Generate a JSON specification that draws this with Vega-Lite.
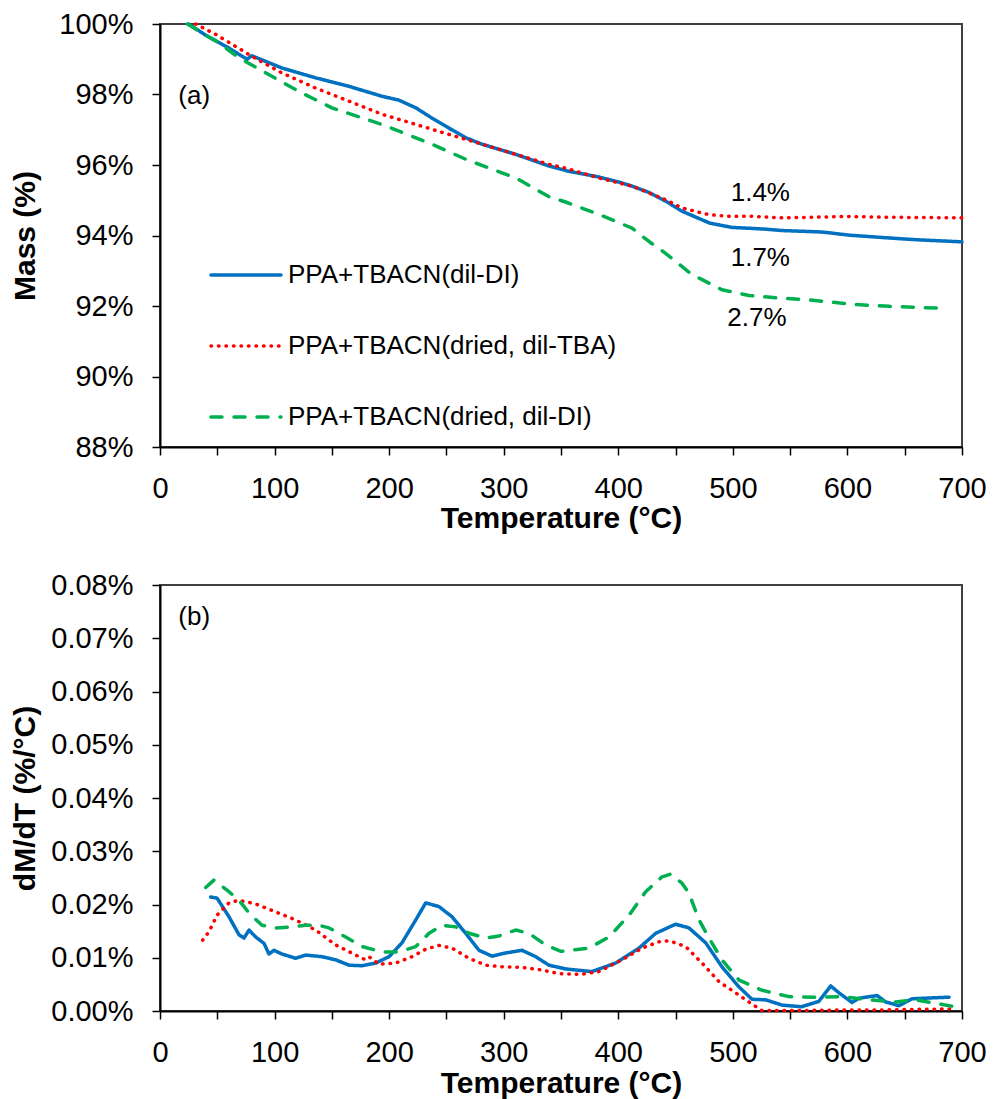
{
  "$schema": "https://vega.github.io/schema/vega-lite/v6.json",
  "padding": {"left": 9, "top": 9, "right": 20, "bottom": 2},
  "autosize": {"type": "pad"},
  "spacing": 36,
  "config": {
    "font": "Liberation Sans",
    "view": {"stroke": "#404040", "strokeWidth": 2},
    "axis": {
      "domainColor": "#000", "domainWidth": 2, "tickColor": "#000", "tickWidth": 1.5, "tickSize": 8,
      "labelFont": "Liberation Sans", "labelFontSize": 29, "labelColor": "#000", "labelPadding": 19,
      "titleFont": "Liberation Sans", "titleFontSize": 30, "titleFontWeight": "bold", "titleColor": "#000",
      "grid": false, "labelFlush": false, "labelOverlap": false, "labelBound": false
    }
  },
  "datasets": {
    "mass": [
      {"s": "PPA+TBACN(dil-DI)", "T": 25, "M": 100},
      {"s": "PPA+TBACN(dil-DI)", "T": 40, "M": 99.68},
      {"s": "PPA+TBACN(dil-DI)", "T": 60, "M": 99.32},
      {"s": "PPA+TBACN(dil-DI)", "T": 76, "M": 99.0},
      {"s": "PPA+TBACN(dil-DI)", "T": 80, "M": 99.1},
      {"s": "PPA+TBACN(dil-DI)", "T": 106.5, "M": 98.75},
      {"s": "PPA+TBACN(dil-DI)", "T": 136, "M": 98.47},
      {"s": "PPA+TBACN(dil-DI)", "T": 165, "M": 98.23},
      {"s": "PPA+TBACN(dil-DI)", "T": 193.7, "M": 97.95},
      {"s": "PPA+TBACN(dil-DI)", "T": 208.5, "M": 97.84},
      {"s": "PPA+TBACN(dil-DI)", "T": 223.4, "M": 97.62},
      {"s": "PPA+TBACN(dil-DI)", "T": 237.4, "M": 97.33},
      {"s": "PPA+TBACN(dil-DI)", "T": 252, "M": 97.05},
      {"s": "PPA+TBACN(dil-DI)", "T": 267, "M": 96.77},
      {"s": "PPA+TBACN(dil-DI)", "T": 281, "M": 96.59},
      {"s": "PPA+TBACN(dil-DI)", "T": 310.7, "M": 96.3},
      {"s": "PPA+TBACN(dil-DI)", "T": 339.5, "M": 95.97},
      {"s": "PPA+TBACN(dil-DI)", "T": 357, "M": 95.82},
      {"s": "PPA+TBACN(dil-DI)", "T": 380, "M": 95.68},
      {"s": "PPA+TBACN(dil-DI)", "T": 400, "M": 95.52},
      {"s": "PPA+TBACN(dil-DI)", "T": 412, "M": 95.4},
      {"s": "PPA+TBACN(dil-DI)", "T": 426.8, "M": 95.22},
      {"s": "PPA+TBACN(dil-DI)", "T": 441.6, "M": 94.97},
      {"s": "PPA+TBACN(dil-DI)", "T": 455.6, "M": 94.69},
      {"s": "PPA+TBACN(dil-DI)", "T": 470.5, "M": 94.48},
      {"s": "PPA+TBACN(dil-DI)", "T": 480, "M": 94.35},
      {"s": "PPA+TBACN(dil-DI)", "T": 499, "M": 94.23},
      {"s": "PPA+TBACN(dil-DI)", "T": 528.9, "M": 94.18},
      {"s": "PPA+TBACN(dil-DI)", "T": 543, "M": 94.14},
      {"s": "PPA+TBACN(dil-DI)", "T": 577.8, "M": 94.1},
      {"s": "PPA+TBACN(dil-DI)", "T": 601.4, "M": 94.01},
      {"s": "PPA+TBACN(dil-DI)", "T": 636.3, "M": 93.93},
      {"s": "PPA+TBACN(dil-DI)", "T": 659.9, "M": 93.88},
      {"s": "PPA+TBACN(dil-DI)", "T": 700, "M": 93.82},

      {"s": "PPA+TBACN(dried, dil-TBA)", "T": 31, "M": 100},
      {"s": "PPA+TBACN(dried, dil-TBA)", "T": 48.9, "M": 99.7},
      {"s": "PPA+TBACN(dried, dil-TBA)", "T": 80.3, "M": 99.08},
      {"s": "PPA+TBACN(dried, dil-TBA)", "T": 106.5, "M": 98.61},
      {"s": "PPA+TBACN(dried, dil-TBA)", "T": 136, "M": 98.18},
      {"s": "PPA+TBACN(dried, dil-TBA)", "T": 165, "M": 97.81},
      {"s": "PPA+TBACN(dried, dil-TBA)", "T": 193.7, "M": 97.44},
      {"s": "PPA+TBACN(dried, dil-TBA)", "T": 223.4, "M": 97.15},
      {"s": "PPA+TBACN(dried, dil-TBA)", "T": 252, "M": 96.87},
      {"s": "PPA+TBACN(dried, dil-TBA)", "T": 281, "M": 96.59},
      {"s": "PPA+TBACN(dried, dil-TBA)", "T": 310.7, "M": 96.3},
      {"s": "PPA+TBACN(dried, dil-TBA)", "T": 339.5, "M": 96.02},
      {"s": "PPA+TBACN(dried, dil-TBA)", "T": 354, "M": 95.91},
      {"s": "PPA+TBACN(dried, dil-TBA)", "T": 383, "M": 95.63},
      {"s": "PPA+TBACN(dried, dil-TBA)", "T": 412, "M": 95.4},
      {"s": "PPA+TBACN(dried, dil-TBA)", "T": 426.8, "M": 95.21},
      {"s": "PPA+TBACN(dried, dil-TBA)", "T": 441.6, "M": 95.01},
      {"s": "PPA+TBACN(dried, dil-TBA)", "T": 455.6, "M": 94.78},
      {"s": "PPA+TBACN(dried, dil-TBA)", "T": 470.5, "M": 94.66},
      {"s": "PPA+TBACN(dried, dil-TBA)", "T": 479.2, "M": 94.59},
      {"s": "PPA+TBACN(dried, dil-TBA)", "T": 499, "M": 94.54},
      {"s": "PPA+TBACN(dried, dil-TBA)", "T": 514, "M": 94.55},
      {"s": "PPA+TBACN(dried, dil-TBA)", "T": 543, "M": 94.5},
      {"s": "PPA+TBACN(dried, dil-TBA)", "T": 600, "M": 94.54},
      {"s": "PPA+TBACN(dried, dil-TBA)", "T": 630, "M": 94.52},
      {"s": "PPA+TBACN(dried, dil-TBA)", "T": 700, "M": 94.5},

      {"s": "PPA+TBACN(dried, dil-DI)", "T": 24, "M": 100},
      {"s": "PPA+TBACN(dried, dil-DI)", "T": 51.5, "M": 99.46},
      {"s": "PPA+TBACN(dried, dil-DI)", "T": 69, "M": 99.04},
      {"s": "PPA+TBACN(dried, dil-DI)", "T": 92.5, "M": 98.61},
      {"s": "PPA+TBACN(dried, dil-DI)", "T": 121, "M": 98.09},
      {"s": "PPA+TBACN(dried, dil-DI)", "T": 150, "M": 97.62},
      {"s": "PPA+TBACN(dried, dil-DI)", "T": 193.7, "M": 97.15},
      {"s": "PPA+TBACN(dried, dil-DI)", "T": 237.4, "M": 96.59},
      {"s": "PPA+TBACN(dried, dil-DI)", "T": 267, "M": 96.16},
      {"s": "PPA+TBACN(dried, dil-DI)", "T": 310.7, "M": 95.63},
      {"s": "PPA+TBACN(dried, dil-DI)", "T": 339.5, "M": 95.1},
      {"s": "PPA+TBACN(dried, dil-DI)", "T": 354, "M": 94.95},
      {"s": "PPA+TBACN(dried, dil-DI)", "T": 383, "M": 94.6},
      {"s": "PPA+TBACN(dried, dil-DI)", "T": 412, "M": 94.21},
      {"s": "PPA+TBACN(dried, dil-DI)", "T": 426.8, "M": 93.83},
      {"s": "PPA+TBACN(dried, dil-DI)", "T": 441, "M": 93.5},
      {"s": "PPA+TBACN(dried, dil-DI)", "T": 464, "M": 92.9},
      {"s": "PPA+TBACN(dried, dil-DI)", "T": 490.5, "M": 92.46},
      {"s": "PPA+TBACN(dried, dil-DI)", "T": 514, "M": 92.3},
      {"s": "PPA+TBACN(dried, dil-DI)", "T": 537.7, "M": 92.23},
      {"s": "PPA+TBACN(dried, dil-DI)", "T": 563.9, "M": 92.18},
      {"s": "PPA+TBACN(dried, dil-DI)", "T": 607.5, "M": 92.04},
      {"s": "PPA+TBACN(dried, dil-DI)", "T": 636.3, "M": 91.99},
      {"s": "PPA+TBACN(dried, dil-DI)", "T": 688, "M": 91.93}
    ],
    "deriv": [
      {"s": "PPA+TBACN(dil-DI)", "T": 44.2, "D": 0.0214},
      {"s": "PPA+TBACN(dil-DI)", "T": 49.8, "D": 0.0212},
      {"s": "PPA+TBACN(dil-DI)", "T": 60.2, "D": 0.0177},
      {"s": "PPA+TBACN(dil-DI)", "T": 69, "D": 0.0143},
      {"s": "PPA+TBACN(dil-DI)", "T": 73.3, "D": 0.0137},
      {"s": "PPA+TBACN(dil-DI)", "T": 77.7, "D": 0.0152},
      {"s": "PPA+TBACN(dil-DI)", "T": 83.5, "D": 0.0139},
      {"s": "PPA+TBACN(dil-DI)", "T": 90.8, "D": 0.0127},
      {"s": "PPA+TBACN(dil-DI)", "T": 95.1, "D": 0.0107},
      {"s": "PPA+TBACN(dil-DI)", "T": 99.5, "D": 0.0114},
      {"s": "PPA+TBACN(dil-DI)", "T": 106.5, "D": 0.0107},
      {"s": "PPA+TBACN(dil-DI)", "T": 118.4, "D": 0.0099},
      {"s": "PPA+TBACN(dil-DI)", "T": 127.2, "D": 0.0105},
      {"s": "PPA+TBACN(dil-DI)", "T": 141.4, "D": 0.0102},
      {"s": "PPA+TBACN(dil-DI)", "T": 153.4, "D": 0.0096},
      {"s": "PPA+TBACN(dil-DI)", "T": 165, "D": 0.0086},
      {"s": "PPA+TBACN(dil-DI)", "T": 176.3, "D": 0.0085},
      {"s": "PPA+TBACN(dil-DI)", "T": 188.3, "D": 0.009},
      {"s": "PPA+TBACN(dil-DI)", "T": 199.9, "D": 0.0102},
      {"s": "PPA+TBACN(dil-DI)", "T": 211.2, "D": 0.0128},
      {"s": "PPA+TBACN(dil-DI)", "T": 223.2, "D": 0.0171},
      {"s": "PPA+TBACN(dil-DI)", "T": 231.9, "D": 0.0203},
      {"s": "PPA+TBACN(dil-DI)", "T": 243.5, "D": 0.0196},
      {"s": "PPA+TBACN(dil-DI)", "T": 254.9, "D": 0.0177},
      {"s": "PPA+TBACN(dil-DI)", "T": 266.8, "D": 0.0146},
      {"s": "PPA+TBACN(dil-DI)", "T": 278.4, "D": 0.0114},
      {"s": "PPA+TBACN(dil-DI)", "T": 289.8, "D": 0.0103},
      {"s": "PPA+TBACN(dil-DI)", "T": 301.7, "D": 0.0109},
      {"s": "PPA+TBACN(dil-DI)", "T": 316, "D": 0.0114},
      {"s": "PPA+TBACN(dil-DI)", "T": 327.9, "D": 0.0102},
      {"s": "PPA+TBACN(dil-DI)", "T": 339.5, "D": 0.0086},
      {"s": "PPA+TBACN(dil-DI)", "T": 354, "D": 0.0079},
      {"s": "PPA+TBACN(dil-DI)", "T": 377, "D": 0.0074},
      {"s": "PPA+TBACN(dil-DI)", "T": 397.7, "D": 0.009},
      {"s": "PPA+TBACN(dil-DI)", "T": 418, "D": 0.0118},
      {"s": "PPA+TBACN(dil-DI)", "T": 432.7, "D": 0.0146},
      {"s": "PPA+TBACN(dil-DI)", "T": 450, "D": 0.0163},
      {"s": "PPA+TBACN(dil-DI)", "T": 461.7, "D": 0.0156},
      {"s": "PPA+TBACN(dil-DI)", "T": 476.3, "D": 0.0128},
      {"s": "PPA+TBACN(dil-DI)", "T": 490.5, "D": 0.0083},
      {"s": "PPA+TBACN(dil-DI)", "T": 505, "D": 0.0046},
      {"s": "PPA+TBACN(dil-DI)", "T": 516.7, "D": 0.0022},
      {"s": "PPA+TBACN(dil-DI)", "T": 528.6, "D": 0.0021},
      {"s": "PPA+TBACN(dil-DI)", "T": 543, "D": 0.0011},
      {"s": "PPA+TBACN(dil-DI)", "T": 560, "D": 0.0008},
      {"s": "PPA+TBACN(dil-DI)", "T": 575, "D": 0.0018},
      {"s": "PPA+TBACN(dil-DI)", "T": 585.4, "D": 0.0047},
      {"s": "PPA+TBACN(dil-DI)", "T": 592.7, "D": 0.0034},
      {"s": "PPA+TBACN(dil-DI)", "T": 604, "D": 0.0016},
      {"s": "PPA+TBACN(dil-DI)", "T": 610, "D": 0.0024},
      {"s": "PPA+TBACN(dil-DI)", "T": 626, "D": 0.0029},
      {"s": "PPA+TBACN(dil-DI)", "T": 633.4, "D": 0.0017},
      {"s": "PPA+TBACN(dil-DI)", "T": 645, "D": 0.001},
      {"s": "PPA+TBACN(dil-DI)", "T": 656.4, "D": 0.0023},
      {"s": "PPA+TBACN(dil-DI)", "T": 688.7, "D": 0.0026},

      {"s": "PPA+TBACN(dried, dil-TBA)", "T": 37.2, "D": 0.0133},
      {"s": "PPA+TBACN(dried, dil-TBA)", "T": 42.8, "D": 0.0149},
      {"s": "PPA+TBACN(dried, dil-TBA)", "T": 49.8, "D": 0.018},
      {"s": "PPA+TBACN(dried, dil-TBA)", "T": 60.2, "D": 0.0203},
      {"s": "PPA+TBACN(dried, dil-TBA)", "T": 69, "D": 0.0208},
      {"s": "PPA+TBACN(dried, dil-TBA)", "T": 83.5, "D": 0.0201},
      {"s": "PPA+TBACN(dried, dil-TBA)", "T": 101, "D": 0.0186},
      {"s": "PPA+TBACN(dried, dil-TBA)", "T": 118.4, "D": 0.0171},
      {"s": "PPA+TBACN(dried, dil-TBA)", "T": 135.9, "D": 0.0152},
      {"s": "PPA+TBACN(dried, dil-TBA)", "T": 153.4, "D": 0.0124},
      {"s": "PPA+TBACN(dried, dil-TBA)", "T": 170.8, "D": 0.0105},
      {"s": "PPA+TBACN(dried, dil-TBA)", "T": 179.5, "D": 0.0096},
      {"s": "PPA+TBACN(dried, dil-TBA)", "T": 183, "D": 0.0101},
      {"s": "PPA+TBACN(dried, dil-TBA)", "T": 191, "D": 0.0088},
      {"s": "PPA+TBACN(dried, dil-TBA)", "T": 205.7, "D": 0.009},
      {"s": "PPA+TBACN(dried, dil-TBA)", "T": 220, "D": 0.0102},
      {"s": "PPA+TBACN(dried, dil-TBA)", "T": 231.9, "D": 0.0116},
      {"s": "PPA+TBACN(dried, dil-TBA)", "T": 243.5, "D": 0.0123},
      {"s": "PPA+TBACN(dried, dil-TBA)", "T": 255, "D": 0.0118},
      {"s": "PPA+TBACN(dried, dil-TBA)", "T": 269.7, "D": 0.0099},
      {"s": "PPA+TBACN(dried, dil-TBA)", "T": 284.3, "D": 0.0086},
      {"s": "PPA+TBACN(dried, dil-TBA)", "T": 298.5, "D": 0.0083},
      {"s": "PPA+TBACN(dried, dil-TBA)", "T": 316, "D": 0.0082},
      {"s": "PPA+TBACN(dried, dil-TBA)", "T": 333.4, "D": 0.0077},
      {"s": "PPA+TBACN(dried, dil-TBA)", "T": 348.3, "D": 0.007},
      {"s": "PPA+TBACN(dried, dil-TBA)", "T": 368.3, "D": 0.0069},
      {"s": "PPA+TBACN(dried, dil-TBA)", "T": 383, "D": 0.0074},
      {"s": "PPA+TBACN(dried, dil-TBA)", "T": 403.2, "D": 0.0096},
      {"s": "PPA+TBACN(dried, dil-TBA)", "T": 420.7, "D": 0.0118},
      {"s": "PPA+TBACN(dried, dil-TBA)", "T": 435.5, "D": 0.013},
      {"s": "PPA+TBACN(dried, dil-TBA)", "T": 444.3, "D": 0.0132},
      {"s": "PPA+TBACN(dried, dil-TBA)", "T": 458.8, "D": 0.0121},
      {"s": "PPA+TBACN(dried, dil-TBA)", "T": 473.1, "D": 0.009},
      {"s": "PPA+TBACN(dried, dil-TBA)", "T": 488, "D": 0.0055},
      {"s": "PPA+TBACN(dried, dil-TBA)", "T": 502.5, "D": 0.0034},
      {"s": "PPA+TBACN(dried, dil-TBA)", "T": 516.7, "D": 0.0013},
      {"s": "PPA+TBACN(dried, dil-TBA)", "T": 525.4, "D": 0.0001},
      {"s": "PPA+TBACN(dried, dil-TBA)", "T": 560, "D": 0.0001},
      {"s": "PPA+TBACN(dried, dil-TBA)", "T": 601, "D": 0.0002},
      {"s": "PPA+TBACN(dried, dil-TBA)", "T": 630, "D": 0.0002},
      {"s": "PPA+TBACN(dried, dil-TBA)", "T": 660, "D": 0.0003},
      {"s": "PPA+TBACN(dried, dil-TBA)", "T": 694.5, "D": 0.0004},

      {"s": "PPA+TBACN(dried, dil-DI)", "T": 39.9, "D": 0.0232},
      {"s": "PPA+TBACN(dried, dil-DI)", "T": 47.1, "D": 0.0246},
      {"s": "PPA+TBACN(dried, dil-DI)", "T": 58.5, "D": 0.0227},
      {"s": "PPA+TBACN(dried, dil-DI)", "T": 69, "D": 0.0208},
      {"s": "PPA+TBACN(dried, dil-DI)", "T": 77.7, "D": 0.0184},
      {"s": "PPA+TBACN(dried, dil-DI)", "T": 89, "D": 0.0161},
      {"s": "PPA+TBACN(dried, dil-DI)", "T": 101, "D": 0.0156},
      {"s": "PPA+TBACN(dried, dil-DI)", "T": 115, "D": 0.0158},
      {"s": "PPA+TBACN(dried, dil-DI)", "T": 127.2, "D": 0.0161},
      {"s": "PPA+TBACN(dried, dil-DI)", "T": 138.8, "D": 0.0161},
      {"s": "PPA+TBACN(dried, dil-DI)", "T": 147.5, "D": 0.0156},
      {"s": "PPA+TBACN(dried, dil-DI)", "T": 162, "D": 0.0139},
      {"s": "PPA+TBACN(dried, dil-DI)", "T": 176.3, "D": 0.0121},
      {"s": "PPA+TBACN(dried, dil-DI)", "T": 193.8, "D": 0.0111},
      {"s": "PPA+TBACN(dried, dil-DI)", "T": 208.6, "D": 0.0111},
      {"s": "PPA+TBACN(dried, dil-DI)", "T": 223.2, "D": 0.0121},
      {"s": "PPA+TBACN(dried, dil-DI)", "T": 234.8, "D": 0.0146},
      {"s": "PPA+TBACN(dried, dil-DI)", "T": 246.1, "D": 0.0161},
      {"s": "PPA+TBACN(dried, dil-DI)", "T": 258.1, "D": 0.0158},
      {"s": "PPA+TBACN(dried, dil-DI)", "T": 269.7, "D": 0.0146},
      {"s": "PPA+TBACN(dried, dil-DI)", "T": 284.3, "D": 0.0137},
      {"s": "PPA+TBACN(dried, dil-DI)", "T": 296, "D": 0.0141},
      {"s": "PPA+TBACN(dried, dil-DI)", "T": 310.4, "D": 0.0152},
      {"s": "PPA+TBACN(dried, dil-DI)", "T": 322, "D": 0.0146},
      {"s": "PPA+TBACN(dried, dil-DI)", "T": 336.6, "D": 0.0124},
      {"s": "PPA+TBACN(dried, dil-DI)", "T": 350, "D": 0.0112},
      {"s": "PPA+TBACN(dried, dil-DI)", "T": 374.4, "D": 0.0118},
      {"s": "PPA+TBACN(dried, dil-DI)", "T": 391.9, "D": 0.0139},
      {"s": "PPA+TBACN(dried, dil-DI)", "T": 409.4, "D": 0.018},
      {"s": "PPA+TBACN(dried, dil-DI)", "T": 423.9, "D": 0.0224},
      {"s": "PPA+TBACN(dried, dil-DI)", "T": 438.2, "D": 0.0252},
      {"s": "PPA+TBACN(dried, dil-DI)", "T": 445.7, "D": 0.0257},
      {"s": "PPA+TBACN(dried, dil-DI)", "T": 455.6, "D": 0.024},
      {"s": "PPA+TBACN(dried, dil-DI)", "T": 461.7, "D": 0.0221},
      {"s": "PPA+TBACN(dried, dil-DI)", "T": 470.5, "D": 0.0171},
      {"s": "PPA+TBACN(dried, dil-DI)", "T": 479.2, "D": 0.0137},
      {"s": "PPA+TBACN(dried, dil-DI)", "T": 490.5, "D": 0.0096},
      {"s": "PPA+TBACN(dried, dil-DI)", "T": 505.4, "D": 0.0058},
      {"s": "PPA+TBACN(dried, dil-DI)", "T": 525.4, "D": 0.0039},
      {"s": "PPA+TBACN(dried, dil-DI)", "T": 549, "D": 0.0027},
      {"s": "PPA+TBACN(dried, dil-DI)", "T": 572.3, "D": 0.0026},
      {"s": "PPA+TBACN(dried, dil-DI)", "T": 595.3, "D": 0.0027},
      {"s": "PPA+TBACN(dried, dil-DI)", "T": 618.8, "D": 0.0021},
      {"s": "PPA+TBACN(dried, dil-DI)", "T": 642.1, "D": 0.0017},
      {"s": "PPA+TBACN(dried, dil-DI)", "T": 659.6, "D": 0.0021},
      {"s": "PPA+TBACN(dried, dil-DI)", "T": 691.3, "D": 0.0009}
    ],
    "tagA": [
      {"T": 16, "M": 97.95, "label": "(a)"}
    ],
    "notesA": [
      {"T": 524, "M": 95.2, "label": "1.4%"},
      {"T": 524, "M": 93.35, "label": "1.7%"},
      {"T": 521, "M": 91.65, "label": "2.7%"}
    ],
    "notesB": [
      {"T": 16, "D": 0.0739, "label": "(b)"}
    ]
  },
  "resolve": {
    "scale": {"color": "independent", "strokeDash": "independent"},
    "legend": {"color": "independent", "strokeDash": "independent"}
  },
  "vconcat": [
    {
      "width": 802,
      "height": 423,
      "layer": [
        {
          "data": {"name": "mass"},
          "mark": {"type": "line", "strokeWidth": 3.5, "strokeCap": "round", "strokeJoin": "round"},
          "encoding": {
            "x": {"field": "T", "type": "quantitative", "scale": {"domain": [0, 700], "nice": false},
              "axis": {"values": [0, 50, 100, 150, 200, 250, 300, 350, 400, 450, 500, 550, 600, 650, 700],
                "labelExpr": "datum.value % 100 === 0 ? datum.label : ''", "title": "Temperature (°C)", "titlePadding": 0}},
            "y": {"field": "M", "type": "quantitative", "scale": {"domain": [88, 100], "nice": false, "zero": false},
              "axis": {"values": [88, 90, 92, 94, 96, 98, 100], "labelExpr": "datum.value + '%'", "title": "Mass (%)", "titlePadding": 18}},
            "color": {"field": "s", "type": "nominal",
              "scale": {"domain": ["PPA+TBACN(dil-DI)", "PPA+TBACN(dried, dil-TBA)", "PPA+TBACN(dried, dil-DI)"], "range": ["#0070C0", "#FF0000", "#00B050"]},
              "legend": {"orient": "none", "legendX": 49, "legendY": 214, "title": null, "symbolType": "stroke", "symbolSize": 4900,
                "symbolStrokeWidth": 3.5, "labelFontSize": 26, "labelFont": "Liberation Sans", "labelColor": "#000", "rowPadding": 21,
                "labelOffset": 5, "padding": 0, "labelLimit": 600,
                "encode": {"symbols": {"update": {"strokeCap": {"value": "round"}}}}}},
            "strokeDash": {"field": "s", "type": "nominal",
              "scale": {"domain": ["PPA+TBACN(dil-DI)", "PPA+TBACN(dried, dil-TBA)", "PPA+TBACN(dried, dil-DI)"], "range": [[1, 0], [0.5, 7], [11, 12]]},
              "legend": {"orient": "none", "legendX": 49, "legendY": 214, "title": null, "symbolType": "stroke", "symbolSize": 4900,
                "symbolStrokeWidth": 3.5, "labelFontSize": 26, "labelFont": "Liberation Sans", "labelColor": "#000", "rowPadding": 21,
                "labelOffset": 5, "padding": 0, "labelLimit": 600,
                "encode": {"symbols": {"update": {"strokeCap": {"value": "round"}}}}}}
          }
        },
        {
          "data": {"name": "tagA"},
          "mark": {"type": "text", "fontSize": 26, "font": "Liberation Sans", "color": "#000", "align": "left", "baseline": "middle"},
          "encoding": {
            "x": {"field": "T", "type": "quantitative"},
            "y": {"field": "M", "type": "quantitative"},
            "text": {"field": "label"}
          }
        },
        {
          "data": {"name": "notesA"},
          "mark": {"type": "text", "fontSize": 26, "font": "Liberation Sans", "color": "#000", "align": "center", "baseline": "middle"},
          "encoding": {
            "x": {"field": "T", "type": "quantitative"},
            "y": {"field": "M", "type": "quantitative"},
            "text": {"field": "label"}
          }
        }
      ]
    },
    {
      "width": 802,
      "height": 426,
      "layer": [
        {
          "data": {"name": "deriv"},
          "mark": {"type": "line", "strokeWidth": 3.5, "strokeCap": "round", "strokeJoin": "round"},
          "encoding": {
            "x": {"field": "T", "type": "quantitative", "scale": {"domain": [0, 700], "nice": false},
              "axis": {"values": [0, 50, 100, 150, 200, 250, 300, 350, 400, 450, 500, 550, 600, 650, 700],
                "labelExpr": "datum.value % 100 === 0 ? datum.label : ''", "title": "Temperature (°C)", "titlePadding": 1}},
            "y": {"field": "D", "type": "quantitative", "scale": {"domain": [0, 0.08], "nice": false},
              "axis": {"values": [0, 0.01, 0.02, 0.03, 0.04, 0.05, 0.06, 0.07, 0.08], "labelExpr": "format(datum.value, '.2f') + '%'", "title": "dM/dT (%/°C)", "titlePadding": 10}},
            "color": {"field": "s", "type": "nominal",
              "scale": {"domain": ["PPA+TBACN(dil-DI)", "PPA+TBACN(dried, dil-TBA)", "PPA+TBACN(dried, dil-DI)"], "range": ["#0070C0", "#FF0000", "#00B050"]},
              "legend": null},
            "strokeDash": {"field": "s", "type": "nominal",
              "scale": {"domain": ["PPA+TBACN(dil-DI)", "PPA+TBACN(dried, dil-TBA)", "PPA+TBACN(dried, dil-DI)"], "range": [[1, 0], [0.5, 7], [11, 12]]},
              "legend": null}
          }
        },
        {
          "data": {"name": "notesB"},
          "mark": {"type": "text", "fontSize": 26, "font": "Liberation Sans", "color": "#000", "align": "left", "baseline": "middle"},
          "encoding": {
            "x": {"field": "T", "type": "quantitative"},
            "y": {"field": "D", "type": "quantitative"},
            "text": {"field": "label"}
          }
        }
      ]
    }
  ]
}
